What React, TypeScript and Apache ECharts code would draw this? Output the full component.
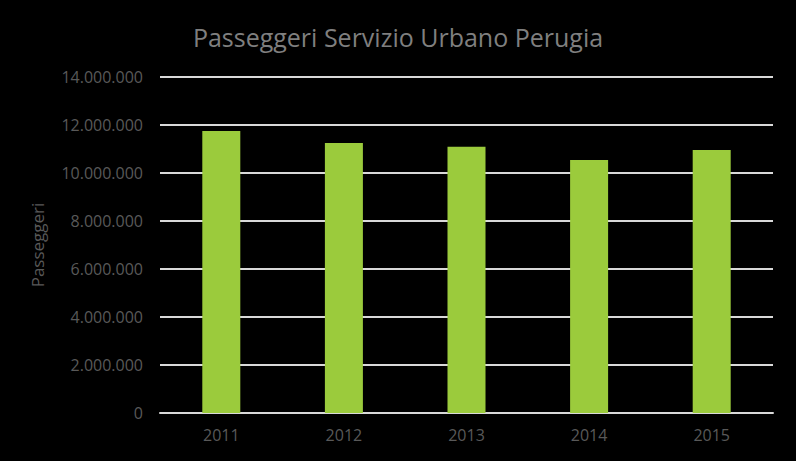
import React, { useEffect, useRef } from "react";
import * as echarts from "echarts";

const categories = ["2011", "2012", "2013", "2014", "2015"];
const passengers = [11750000, 11250000, 11090000, 10540000, 10960000];
const yTicks = { min: 0, max: 14000000, interval: 2000000 };

function fmt(v: number): string {
  return String(Math.round(v)).replace(/\B(?=(\d{3})+(?!\d))/g, ".");
}

export default function App() {
  const ref = useRef<HTMLDivElement>(null);
  useEffect(() => {
    if (!ref.current) return;
    const chart = echarts.init(ref.current, undefined, { renderer: "svg" });
    chart.setOption({
      animation: false,
      backgroundColor: "#000000",
      title: {
        text: "Passeggeri Servizio Urbano Perugia",
        left: "center",
        top: 19,
        textStyle: {
          color: "#7f7f7f",
          fontSize: 25,
          fontWeight: "normal",
          fontFamily: "Open Sans",
        },
      },
      grid: { left: 160, right: 23, top: 77, bottom: 48 },
      xAxis: {
        type: "category",
        data: categories,
        axisLine: { lineStyle: { color: "#d9d9d9", width: 2 } },
        axisTick: { show: false },
        axisLabel: { color: "#595959", fontSize: 16, fontFamily: "Open Sans", margin: 14 },
      },
      yAxis: {
        type: "value",
        min: yTicks.min,
        max: yTicks.max,
        interval: yTicks.interval,
        name: "Passeggeri",
        nameLocation: "middle",
        nameGap: 114,
        nameTextStyle: { color: "#595959", fontSize: 17, fontFamily: "Open Sans" },
        axisLine: { show: false },
        axisTick: { show: false },
        splitLine: { lineStyle: { color: "#d9d9d9", width: 2 } },
        axisLabel: {
          color: "#595959",
          fontSize: 16,
          fontFamily: "Open Sans",
          margin: 17,
          formatter: (v: number) => fmt(v),
        },
      },
      series: [
        {
          type: "bar",
          data: passengers,
          barWidth: "31%",
          itemStyle: { color: "#9bcb3c" },
        },
      ],
    });
    return () => chart.dispose();
  }, []);
  return <div ref={ref} style={{ width: 796, height: 461, position: "fixed", left: 0, top: 0 }} />;
}
